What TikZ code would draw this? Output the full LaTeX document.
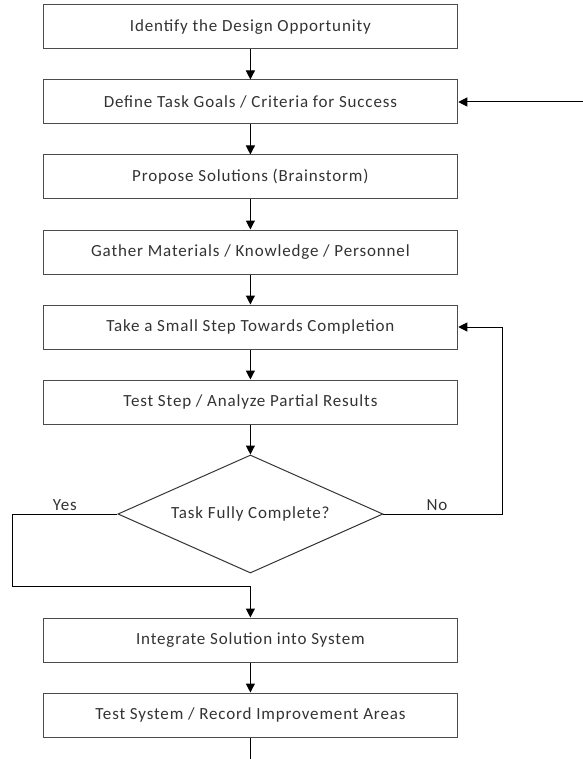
\documentclass[tikz,border=0pt]{standalone}
\usepackage{fontspec}
\setmainfont{Carlito}[LetterSpace=5]
\usetikzlibrary{arrows.meta,calc,positioning,shapes.geometric}
\tikzset{
    stepbox/.style={draw=black!70, text=black!80, minimum width=414.7pt, minimum height=44pt, inner sep=0pt, font=\fontsize{17}{20}\selectfont},
    decide/.style={diamond, aspect=2.25, draw=black!80, text=black!80, minimum width=265pt, minimum height=118pt, inner sep=0pt, font=\fontsize{17}{20}\selectfont},
    branch/.style={text=black!80, font=\fontsize{17}{20}\selectfont}
}

\begin{document}
\begin{tikzpicture}[>={Triangle[length=9pt,width=9pt]}, node distance=30pt, line width=1pt]
\useasboundingbox (0,0) rectangle (582pt,-759pt);
\node[stepbox] (identify) at (250.4pt,-27pt) {Identify the Design Opportunity};
\node[stepbox, below=of identify] (define) {Define Task Goals / Criteria for Success};
\node[stepbox, below=of define] (propose) {Propose Solutions (Brainstorm)};
\node[stepbox, below=of propose] (gather) {Gather Materials / Knowledge / Personnel};
\node[stepbox, below=of gather] (small) {Take a Small Step Towards Completion};
\node[stepbox, below=of small] (partial) {Test Step / Analyze Partial Results};
\node[decide, below=of partial] (check) {Task Fully Complete?};
\node[stepbox, below=44pt of check] (integrate) {Integrate Solution into System};
\node[stepbox, below=of integrate] (record) {Test System / Record Improvement Areas};
% corners of the return lines
\coordinate (fbin) at ($(define.east)+(124.3pt,0)$);
\coordinate (noturn) at ($(check.east)+(119pt,0)$);
\coordinate (yesturn) at ($(check.west)+(-105pt,0)$);
\coordinate (yesjoin) at ($(integrate.north)+(0,31pt)$);
\coordinate (fbout) at ($(record.south)+(331.6pt,-25.5pt)$);
\draw[->] (identify) -- (define);
\draw[->] (define) -- (propose);
\draw[->] (propose) -- (gather);
\draw[->] (gather) -- (small);
\draw[->] (small) -- (partial);
\draw[->] (partial) -- (check);
\draw[->] (integrate) -- (record);
\draw[->] (fbin) -- (define);
\draw[->] (check.east) -- node[branch, above, pos=0.45] {No} (noturn) |- (small.east);
\draw[->] (check.west) -- node[branch, above] {Yes} (yesturn) |- (yesjoin) -- (integrate);
\draw (record.south) |- (fbout);
\end{tikzpicture}
\end{document}
